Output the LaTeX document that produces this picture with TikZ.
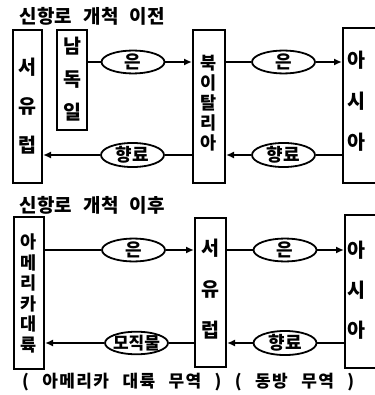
\documentclass[tikz,border=0pt]{standalone}
\usepackage{fontspec}
\newfontfamily\kr{Noto Sans CJK KR}
\newfontfamily\krt{Noto Sans CJK KR}[LetterSpace=2]
\newfontfamily\krc{Noto Sans CJK KR}[LetterSpace=8]
\usetikzlibrary{arrows.meta,shapes.geometric}
\begin{document}
\begin{tikzpicture}[x=1pt,y=-1pt,
  box/.style={draw, line width=2pt, inner sep=0pt},
  oval/.style={draw, ellipse, line width=1.8pt, minimum width=63pt, minimum height=21pt, inner sep=0pt, font=\kr\bfseries\fontsize{18}{18}\selectfont},
  link/.style={line width=1.8pt},
  arr/.style={line width=1.8pt, -{Latex[length=8pt,width=7pt]}},
  vt/.style={font=\kr\bfseries\fontsize{19.5}{#1}\selectfont, inner sep=0pt, align=center},
  vts/.style={font=\kr\bfseries\fontsize{17.5}{#1}\selectfont, inner sep=0pt, align=center},
  ttl/.style={font=\krt\bfseries\fontsize{19}{19}\selectfont, inner sep=0pt, anchor=west}]
\useasboundingbox (0,0) rectangle (374,395);
% titles
\node[ttl] (title1) at (19,16) {\hbox to 146pt{신항로\hfill 개척\hfill 이전}};
\node[ttl] (title2) at (19,205) {\hbox to 146pt{신항로\hfill 개척\hfill 이후}};
% top boxes
\node[box, minimum width=29pt, minimum height=153pt] (weu1) at (27.5,106.5) {};
\node[box, minimum width=30pt, minimum height=100pt] (sgr) at (72,80) {};
\node[box, minimum width=32pt, minimum height=153pt] (nit) at (209,106.5) {};
\node[box, minimum width=37pt, minimum height=155pt] (asia1) at (361.5,105.5) {};
\node[vt=39pt] (tweu1) at (27.5,106) {서\\유\\럽};
\node[vt=33pt] (tsgr) at (72,79) {남\\독\\일};
\node[vts=20pt] (tnit) at (209,103) {북\\이\\탈\\리\\아};
\node[vt=41pt] (tasia1) at (356,101) {아\\시\\아};
% bottom boxes
\node[box, minimum width=30pt, minimum height=152pt] (ame) at (29,293) {};
\node[box, minimum width=31pt, minimum height=149pt] (weu2) at (210.5,292.5) {};
\node[box, minimum width=33pt, minimum height=153pt] (asia2) at (361.5,291.5) {};
\node[vts=20.6pt] (tame) at (29,293.5) {아\\메\\리\\카\\대\\륙};
\node[vt=41pt] (tweu2) at (210.5,289) {서\\유\\럽};
\node[vt=40pt] (tasia2) at (356,290) {아\\시\\아};
% ovals
\node[oval] (e1) at (133,62) {은};
\node[oval] (e2) at (283.5,62) {은};
\node[oval] (e3) at (132.5,155) {향료};
\node[oval] (e4) at (283.5,155) {향료};
\node[oval] (e5) at (133.5,250) {은};
\node[oval] (e6) at (285,250) {은};
\node[oval, font=\kr\bfseries\fontsize{17}{17}\selectfont, inner xsep=-4pt] (e7) at (136.5,343) {모직물};
\node[oval] (e8) at (285,343) {향료};
% top connectors
\draw[link] (sgr.east |- e1) -- (e1.west);
\draw[arr] (e1.east) -- (nit.west |- e1);
\draw[link] (nit.east |- e2) -- (e2.west);
\draw[arr] (e2.east) -- (asia1.west |- e2);
\draw[link] (asia1.west |- e4) -- (e4.east);
\draw[arr] (e4.west) -- (nit.east |- e4);
\draw[link] (nit.west |- e3) -- (e3.east);
\draw[arr] (e3.west) -- (weu1.east |- e3);
% bottom connectors
\draw[link] (ame.east |- e5) -- (e5.west);
\draw[arr] (e5.east) -- (weu2.west |- e5);
\draw[link] (weu2.east |- e6) -- (e6.west);
\draw[arr] (e6.east) -- (asia2.west |- e6);
\draw[link] (asia2.west |- e8) -- (e8.east);
\draw[arr] (e8.west) -- (weu2.east |- e8);
\draw[link] (weu2.west |- e7) -- (e7.east);
\draw[arr] (e7.west) -- (ame.east |- e7);
% caption
\node[font=\krc\bfseries\fontsize{17}{17}\selectfont, inner sep=0pt, anchor=west] (cap) at (22,382) {\hbox to 332pt{(\hfill 아메리카\hfill 대륙\hfill 무역\hfill )\hfill (\hfill 동방\hfill 무역\hfill )}};
\end{tikzpicture}
\end{document}
